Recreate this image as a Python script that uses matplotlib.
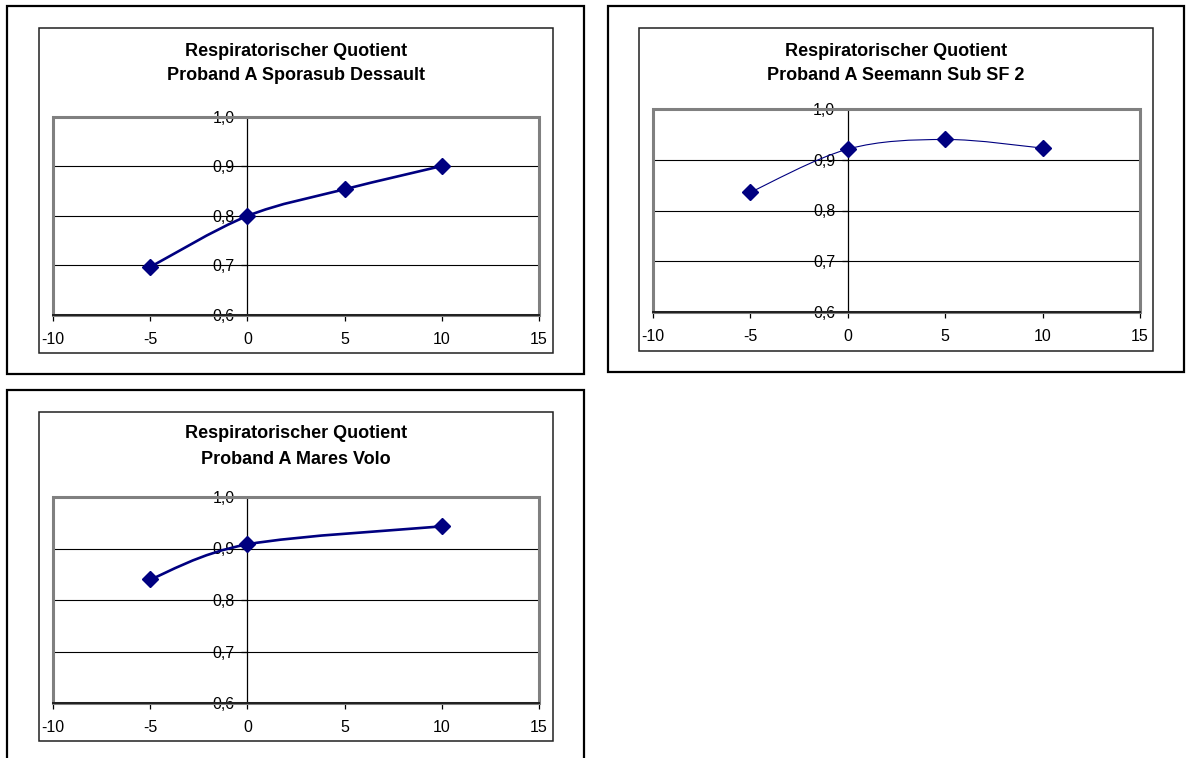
import matplotlib
matplotlib.use("Agg")
import matplotlib.pyplot as plt
from matplotlib.patches import Rectangle, PathPatch
from matplotlib.path import Path

plt.rcParams['font.family'] = ['Liberation Sans', 'DejaVu Sans']
plt.rcParams['axes.unicode_minus'] = False

# ---- data ----
title_line1 = "Respiratorischer Quotient"
titles = ["Proband A Sporasub Dessault", "Proband A Seemann Sub SF 2", "Proband A Mares Volo"]

x_sporasub = [-5, 0, 5, 10]
y_sporasub = [0.697, 0.800, 0.854, 0.901]

x_seemann = [-5, 0, 5, 10]
y_seemann = [0.836, 0.921, 0.940, 0.923]

x_mares = [-5, 0, 10]
y_mares = [0.840, 0.908, 0.943]

x_ticks = [-10, -5, 0, 5, 10, 15]
x_ticklabels = ["-10", "-5", "0", "5", "10", "15"]
y_ticks = [0.6, 0.7, 0.8, 0.9, 1.0]
y_ticklabels = ["0,6", "0,7", "0,8", "0,9", "1,0"]

NAVY = "#000080"
W, H = 1188, 758
fig = plt.figure(figsize=(W / 100, H / 100), dpi=100)


def fx(px):
    return px / W


def fy(py):
    return 1 - py / H


def frame(x0, y0, x1, y1, lw, color):
    fig.patches.append(Rectangle((fx(x0), fy(y1)), fx(x1) - fx(x0), fy(y0) - fy(y1),
                                 transform=fig.transFigure, fill=False, lw=lw,
                                 edgecolor=color, zorder=0))


def smooth_path(xs, ys):
    pts = list(zip(xs, ys))
    n = len(pts)
    verts = [pts[0]]
    codes = [Path.MOVETO]
    for i in range(n - 1):
        p0 = pts[i - 1] if i > 0 else pts[i]
        p1 = pts[i]
        p2 = pts[i + 1]
        p3 = pts[i + 2] if i + 2 < n else pts[i + 1]
        c1 = (p1[0] + (p2[0] - p0[0]) / 6, p1[1] + (p2[1] - p0[1]) / 6)
        c2 = (p2[0] - (p3[0] - p1[0]) / 6, p2[1] - (p3[1] - p1[1]) / 6)
        verts += [c1, c2, p2]
        codes += [Path.CURVE4] * 3
    return Path(verts, codes)


def panel(outer, inner, plot, title_y, sub, xs, ys, lw):
    frame(*outer, lw=1.6, color="black")
    frame(*inner, lw=1.1, color="#202020")
    cx = (inner[0] + inner[2]) / 2
    fig.text(fx(cx), fy(title_y[0]), title_line1, ha='center', va='center',
             fontsize=13, fontweight='bold')
    fig.text(fx(cx), fy(title_y[1]), sub, ha='center', va='center',
             fontsize=13, fontweight='bold')
    x0, y0, x1, y1 = plot
    ax = fig.add_axes([fx(x0), fy(y1), fx(x1) - fx(x0), fy(y0) - fy(y1)])
    ax.set_xlim(-10, 15)
    ax.set_ylim(0.6, 1.0)
    for s in ['top', 'right']:
        ax.spines[s].set_visible(False)
    ax.spines['left'].set_position(('data', 0))
    ax.spines['left'].set_color('black')
    ax.spines['left'].set_linewidth(0.9)
    ax.spines['bottom'].set_color('#202020')
    ax.spines['bottom'].set_linewidth(1.4)
    ax.spines['bottom'].set_zorder(4)
    ax.add_patch(Rectangle((0, 0), 1, 1, transform=ax.transAxes, fill=False,
                           lw=2.2, edgecolor="#808080", zorder=3, clip_on=False))
    ax.set_xticks(x_ticks)
    ax.set_xticklabels(x_ticklabels)
    ax.set_yticks(y_ticks)
    ax.set_yticklabels(y_ticklabels)
    ax.tick_params(axis='x', direction='out', length=4, width=0.9, pad=8,
                   labelsize=11.5, colors='black')
    ax.tick_params(axis='y', direction='out', length=4, width=0.9, pad=5,
                   labelsize=11.5, colors='black')
    ax.yaxis.grid(True, color='black', lw=0.8)
    ax.set_axisbelow(True)
    ax.add_patch(PathPatch(smooth_path(xs, ys), fill=False, edgecolor=NAVY,
                           lw=lw, zorder=5, capstyle='round', joinstyle='round'))
    ax.plot(xs, ys, linestyle='none', marker='D', markersize=8, color=NAVY,
            zorder=6, clip_on=False)
    return ax


panel((7, 6, 584, 374), (39, 28, 553, 353), (53, 117, 539, 315), (51, 76),
      titles[0], x_sporasub, y_sporasub, 1.9)
panel((608, 6, 1184, 372), (639, 28, 1153, 351), (653, 109, 1140, 312), (51, 76),
      titles[1], x_seemann, y_seemann, 0.8)
panel((7, 390, 584, 775), (39, 412, 553, 741), (53, 497, 539, 703), (434, 460),
      titles[2], x_mares, y_mares, 1.9)

fig.savefig("out.png", dpi=100)
